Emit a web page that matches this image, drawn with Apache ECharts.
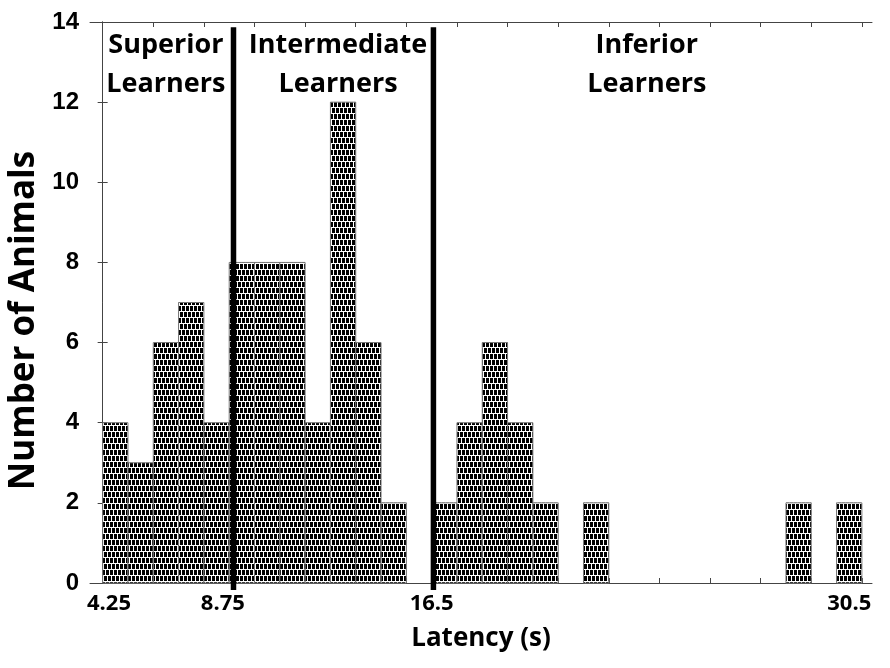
<!DOCTYPE html>
<html>
<head>
<meta charset="utf-8">
<script src="https://cdn.jsdelivr.net/npm/echarts@6/dist/echarts.min.js"></script>
<style>html,body{margin:0;padding:0;background:#fff}#c{width:890px;height:668px}</style>
</head>
<body>
<div id="c"></div>
<script>
// Histogram counts per bin (bin index 0..29)
const binCounts = [4, 3, 6, 7, 4, 8, 8, 8, 4, 12, 6, 2, 0, 2, 4, 6, 4, 2, 0, 2, 0, 0, 0, 0, 0, 0, 0, 2, 0, 2];
// Latency tick labels and the bin positions they sit at
const xTickLabels = ['4.25', '8.75', '16.5', '30.5'];
const xTickPositions = [0.25, 4.75, 13, 29.5];
// Group boundaries (in bin units)
const boundaries = [5.17, 13.07];
const groupNames = ['Superior\nLearners', 'Intermediate\nLearners', 'Inferior\nLearners'];
const groupCenters = [2.5, 9.3, 21.5];
const yTicks = [0, 2, 4, 6, 8, 10, 12, 14];

const chart = echarts.init(document.getElementById('c'), null, { renderer: 'canvas' });

// brick-like fill pattern
const pc = document.createElement('canvas');
pc.width = 8; pc.height = 12;
const g = pc.getContext('2d');
g.fillStyle = '#ffffff'; g.fillRect(0, 0, 8, 12);
g.fillStyle = '#000000';
g.fillRect(0, 0, 3, 5); g.fillRect(4, 0, 3, 5);
g.fillRect(2, 6, 3, 5); g.fillRect(6, 6, 3, 5); g.fillRect(-2, 6, 3, 5);

const binTicks = [];
for (let i = 0; i <= 30; i += 2) binTicks.push(i);

const data = binCounts.map((v, i) => [i, v]);

const fontCal = '"Open Sans", Lato, sans-serif';

chart.setOption({
  animation: false,
  grid: { left: 90, right: 18, top: 22, bottom: 85, containLabel: false, outerBoundsMode: 'none' },
  xAxis: [{
    type: 'value', min: -0.5, max: 30.4, position: 'bottom',
    name: 'Latency (s)', nameLocation: 'middle', nameGap: 43,
    nameTextStyle: { fontFamily: fontCal, fontWeight: 'bold', fontSize: 26, color: '#000' },
    axisLine: { show: true, onZero: false, lineStyle: { color: '#444', width: 1 } },
    axisTick: { show: true, inside: true, length: 5, customValues: binTicks, lineStyle: { color: '#444' } },
    axisLabel: { show: true, customValues: xTickPositions, formatter: (v) => xTickLabels[xTickPositions.indexOf(v)] || '',
      fontFamily: fontCal, fontWeight: 'bold', fontSize: 22, color: '#000', margin: 10 },
    splitLine: { show: false }
  }, {
    type: 'value', min: -0.5, max: 30.4, position: 'top',
    axisLine: { show: true, onZero: false, lineStyle: { color: '#444', width: 1 } },
    axisTick: { show: true, inside: true, length: 5, customValues: binTicks, lineStyle: { color: '#444' } },
    axisLabel: { show: false }, splitLine: { show: false }
  }],
  yAxis: [{
    type: 'value', min: 0, max: 14, interval: 2, position: 'left',
    name: 'Number of Animals', nameLocation: 'middle', nameGap: 47,
    nameTextStyle: { fontFamily: fontCal, fontWeight: 'bold', fontSize: 35, color: '#000', padding: [0, 36, 0, 0] },
    axisLine: { show: true, lineStyle: { color: '#444', width: 1 } },
    axisTick: { show: true, inside: true, length: 5, lineStyle: { color: '#444' } },
    axisLabel: { fontFamily: '"Liberation Sans", Arial, sans-serif', fontWeight: 'bold', fontSize: 24, color: '#000', margin: 11,
      formatter: (v) => yTicks.includes(v) ? String(v) : '' },
    splitLine: { show: false }
  }, {
    type: 'value', min: 0, max: 14, interval: 2, position: 'right',
    axisLine: { show: true, lineStyle: { color: '#444', width: 1 } },
    axisTick: { show: true, inside: true, length: 5, lineStyle: { color: '#444' } },
    axisLabel: { show: false }, splitLine: { show: false }
  }],
  series: [{
    type: 'custom',
    xAxisIndex: 0, yAxisIndex: 0,
    data: data,
    encode: { x: 0, y: 1 },
    renderItem: function (params, api) {
      const i = api.value(0), v = api.value(1);
      if (!v) return null;
      const p0 = api.coord([i, 0]);
      const p1 = api.coord([i + 1, v]);
      return {
        type: 'rect',
        shape: { x: p0[0], y: p1[1], width: p1[0] - p0[0], height: p0[1] - p1[1] },
        style: { fill: { image: pc, repeat: 'repeat' }, stroke: '#777', lineWidth: 1 }
      };
    },
    z: 2
  }, {
    type: 'custom',
    xAxisIndex: 0, yAxisIndex: 0,
    data: boundaries.map(b => [b]),
    encode: { x: 0 },
    renderItem: function (params, api) {
      const x = api.value(0);
      const pTop = api.coord([x, 13.87]);
      const pBot = api.coord([x, 0]);
      return {
        type: 'line',
        shape: { x1: pTop[0], y1: pTop[1], x2: pBot[0], y2: pBot[1] + 7 },
        style: { stroke: '#000', lineWidth: 5.5 }
      };
    },
    clip: false,
    z: 5
  }, {
    type: 'custom',
    xAxisIndex: 0, yAxisIndex: 0,
    data: groupCenters.map(c => [c, 13.9]),
    encode: { x: 0, y: 1 },
    renderItem: function (params, api) {
      const p = api.coord([api.value(0), api.value(1)]);
      return {
        type: 'text',
        x: p[0], y: p[1],
        style: {
          text: groupNames[params.dataIndex],
          fontFamily: fontCal, fontWeight: 'bold', fontSize: 27, lineHeight: 39,
          fill: '#000', align: 'center', verticalAlign: 'top'
        }
      };
    },
    z: 6
  }]
});
</script>
</body>
</html>
